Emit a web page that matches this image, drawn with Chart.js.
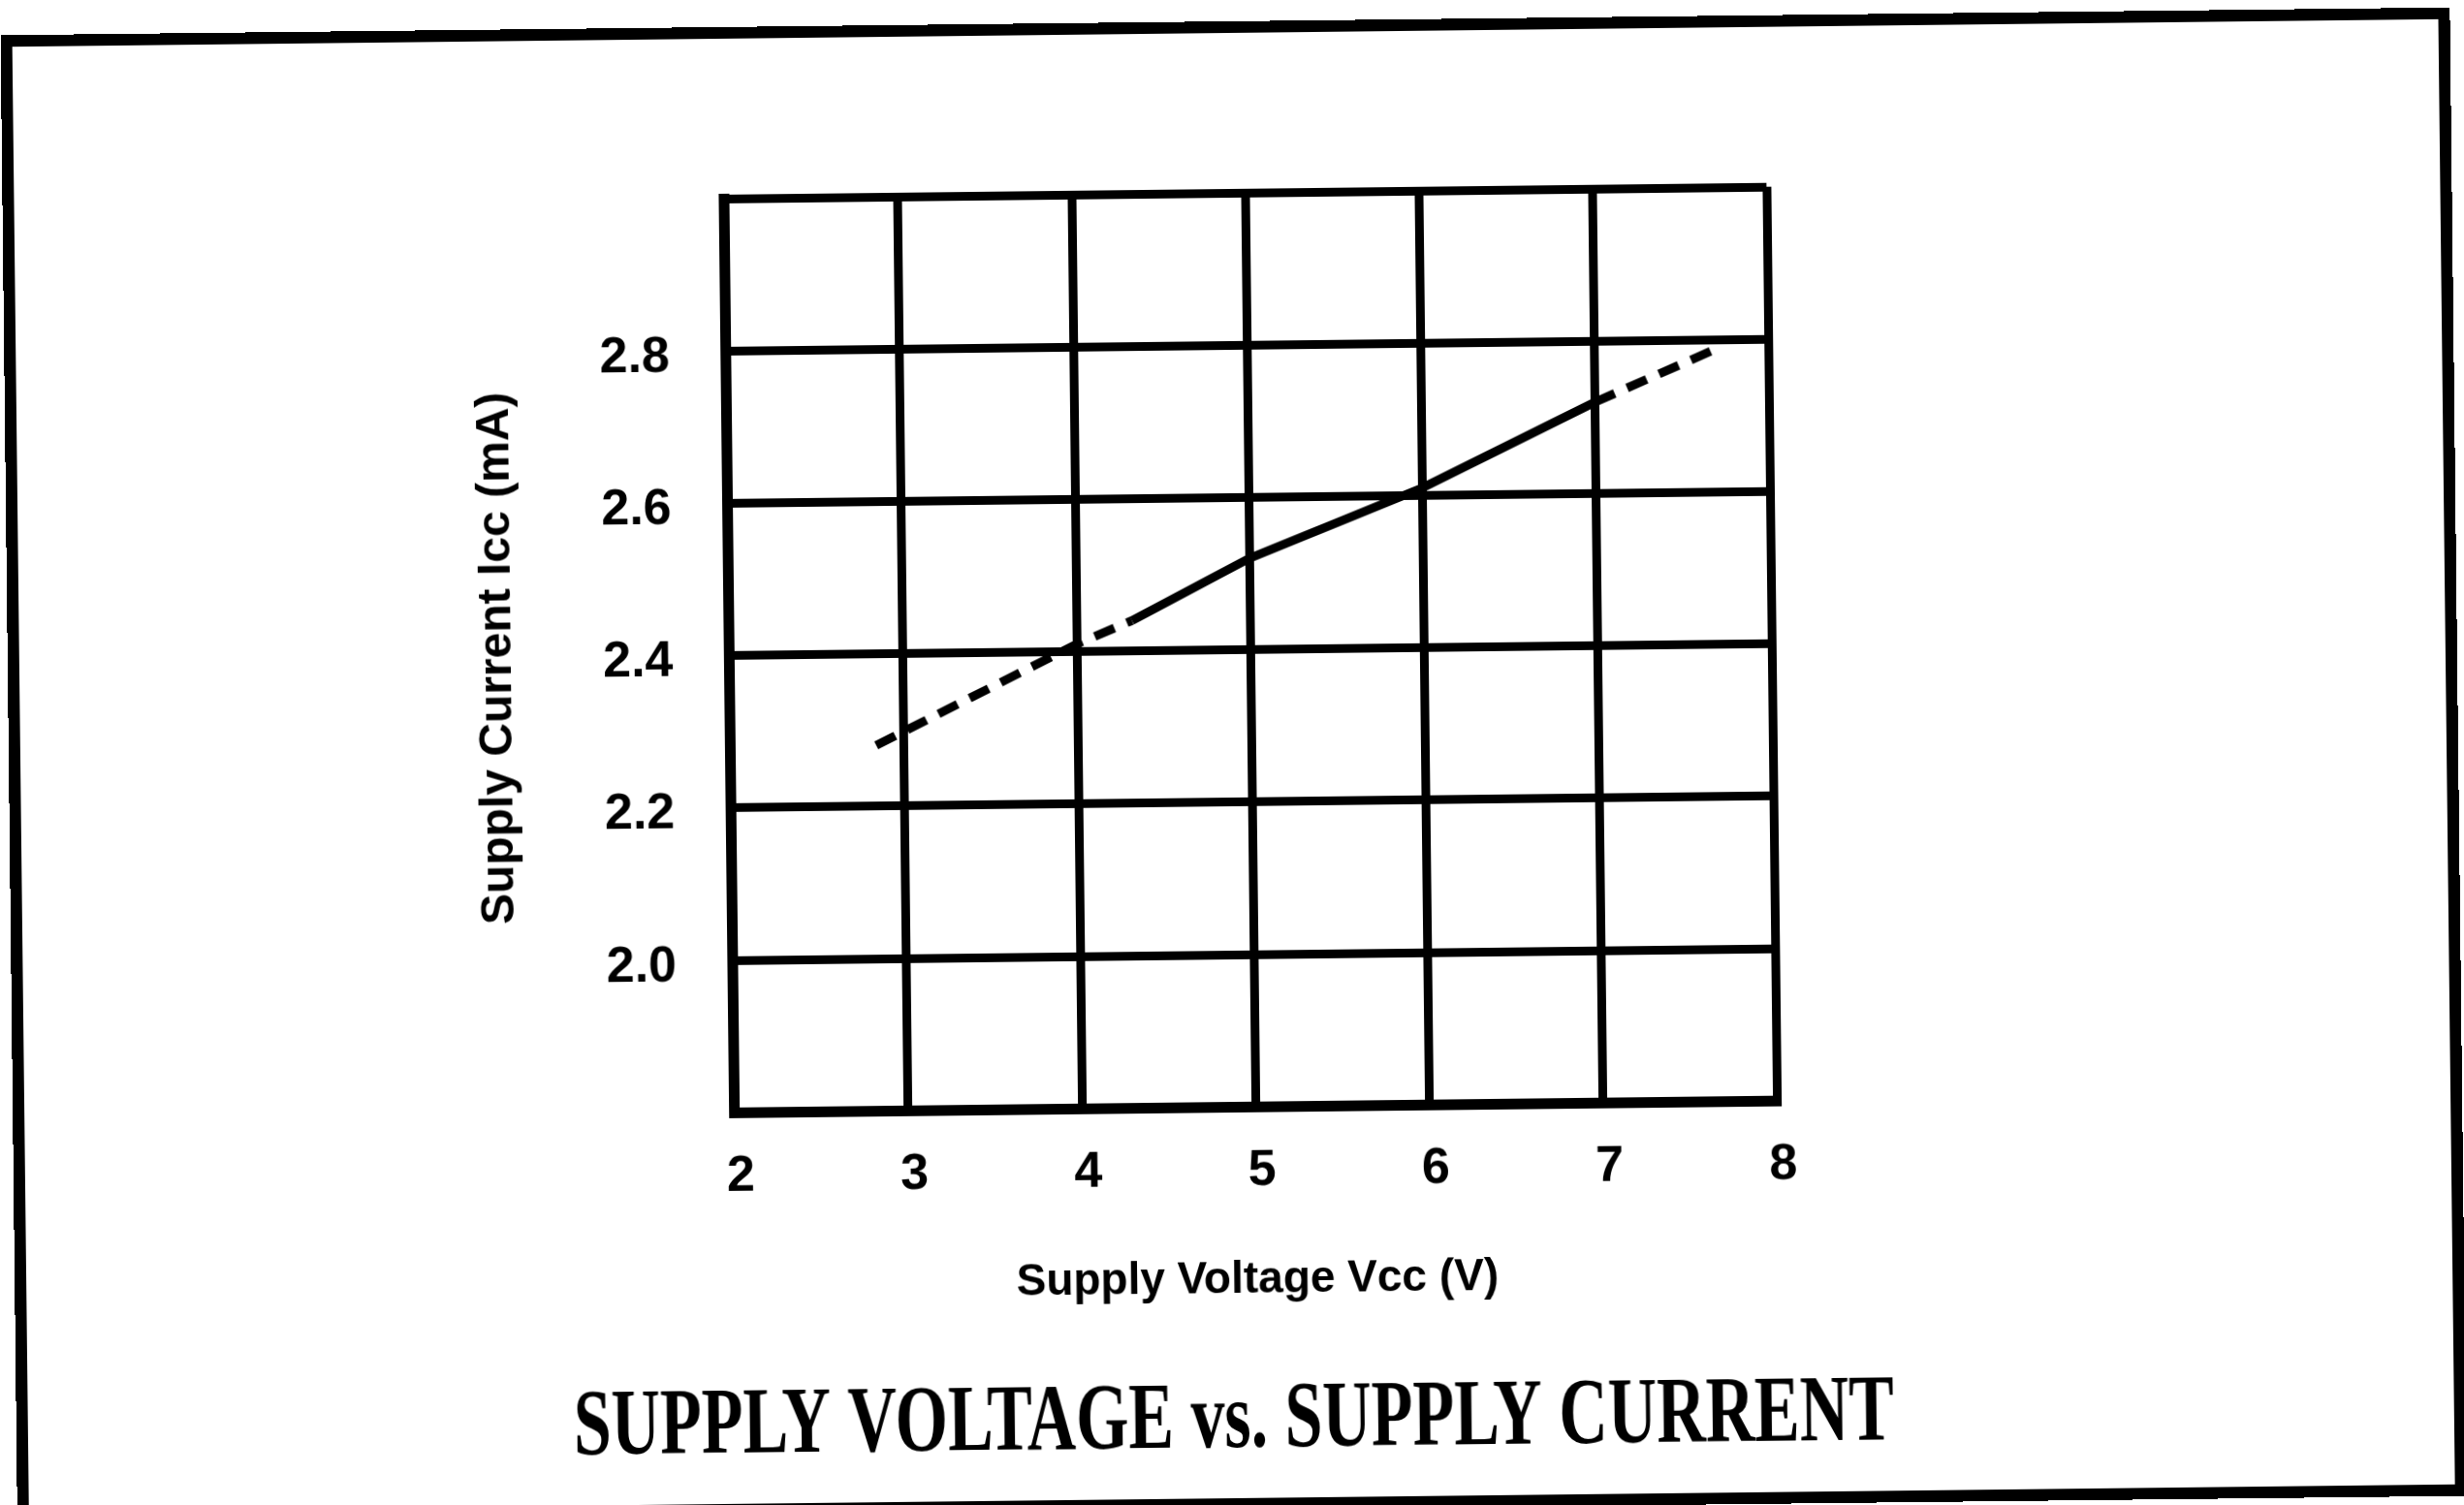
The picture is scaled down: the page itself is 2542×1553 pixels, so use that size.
<!DOCTYPE html>
<html>
<head>
<meta charset="utf-8">
<script src="https://cdn.jsdelivr.net/npm/chart.js@4/dist/chart.umd.min.js"></script>
<style>
  html, body { margin: 0; padding: 0; background: #fff; overflow: hidden; }
  #page { position: absolute; left: 0; top: 0; width: 2542px; height: 1553px;
          transform: rotate(-0.65deg); transform-origin: 1271px 776.5px; }
  #chart { position: absolute; left: 0; top: 0; width: 2542px; height: 1553px; }
  #frame { position: absolute; left: 9px; top: 22px; width: 2527px; height: 1536px;
           box-sizing: border-box; border: 12px solid #000; pointer-events: none; }
</style>
</head>
<body>
<div id="page">
  <canvas id="chart" width="2542" height="1553"></canvas>
  <div id="frame"></div>
</div>
<script>
// ---- data ----
const voltage  = [2.84, 4.0, 4.32, 5.0, 6.0, 7.0, 7.72];      // Vcc (V)
const current  = [2.28, 2.41, 2.44, 2.52, 2.61, 2.72, 2.79];   // Icc (mA)
const measured = [false, false, true, true, true, true, false]; // solid part of the curve
const xTickLabels = ['2', '3', '4', '5', '6', '7', '8'];
const yTickLabels = ['2.0', '2.2', '2.4', '2.6', '2.8'];
const chartTitle = 'SUPPLY VOLTAGE vs. SUPPLY CURRENT';
const xAxisTitle = 'Supply Voltage Vcc (V)';
const yAxisTitle = 'Supply Current Icc (mA)';

Chart.defaults.font.family = "'Liberation Sans', Arial, sans-serif";
Chart.defaults.color = '#000';

const points = voltage.map((v, i) => ({ x: v, y: current[i] }));

new Chart(document.getElementById('chart'), {
  type: 'scatter',
  data: {
    datasets: [{
      data: points,
      showLine: true,
      borderColor: '#000',
      backgroundColor: '#000',
      borderWidth: 9,
      pointRadius: 0,
      tension: 0,
      fill: false,
      segment: {
        borderDash: c => (measured[c.p0DataIndex] && measured[c.p1DataIndex]) ? [] : [22, 14]
      }
    }]
  },
  options: {
    responsive: false,
    animation: false,
    devicePixelRatio: 1,
    layout: { padding: { left: 584, right: 596, top: 199, bottom: 27 } },
    plugins: {
      legend: { display: false },
      tooltip: { enabled: false },
      title: {
        display: true,
        text: chartTitle,
        position: 'bottom',
        fullSize: true,
        color: '#000',
        font: { family: "'Liberation Serif', 'Times New Roman', serif", size: 98, weight: 'bold' },
        padding: { top: 59, bottom: 0 }
      }
    },
    scales: {
      x: {
        type: 'linear',
        position: 'bottom',
        min: 2, max: 8,
        ticks: {
          stepSize: 1,
          padding: 35,
          labelOffset: 6,
          font: { size: 52, weight: 'bold' },
          callback: v => xTickLabels.includes(String(v)) ? String(v) : ''
        },
        grid: { color: '#000', lineWidth: 9, drawTicks: false },
        border: { display: true, color: '#000', width: 11 },
        title: {
          display: true, text: xAxisTitle,
          font: { size: 46, weight: 'bold' },
          padding: { top: 0, bottom: 0 }
        },
        afterFit: s => { s.height = 207; }
      },
      y: {
        type: 'linear',
        position: 'left',
        min: 1.8, max: 3.0,
        ticks: {
          stepSize: 0.2,
          padding: 58,
          labelOffset: 6,
          font: { size: 52, weight: 'bold' },
          callback: v => { const s = Number(v).toFixed(1); return yTickLabels.includes(s) ? s : ''; }
        },
        grid: { color: '#000', lineWidth: 9, drawTicks: false },
        border: { display: true, color: '#000', width: 11 },
        title: {
          display: true, text: yAxisTitle,
          font: { size: 48, weight: 'bold' },
          padding: { top: -98, bottom: 0 }
        },
        afterFit: s => { s.width = 169.5; }
      },
      spacer: {
        type: 'linear',
        position: 'right',
        display: true,
        grid: { display: false },
        border: { display: false },
        ticks: { display: false },
        afterFit: s => { s.width = 117; }
      }
    }
  }
});
</script>
</body>
</html>
